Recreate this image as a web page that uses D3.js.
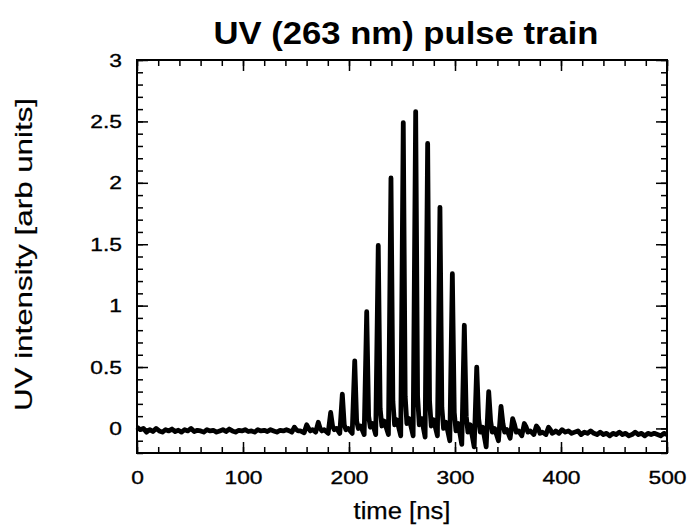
<!DOCTYPE html>
<html>
<head>
<meta charset="utf-8">
<script src="https://cdn.jsdelivr.net/npm/d3@7"></script>
<style>
  body { margin: 0; background: #fff; }
  text { font-family: "Liberation Sans", Arial, Helvetica, sans-serif; fill: #000; }
</style>
</head>
<body>
<div id="chart"></div>
<script>
// pulse train (ns, arb units)
var pulseTime  = [148.5, 160.1, 171.0, 182.7, 193.7, 205.4, 216.7, 227.6, 239.6, 251.2, 262.9,
                  274.2, 285.8, 297.5, 308.8, 320.5, 331.8, 343.4, 354.4, 365.4, 376.8, 388.2];
var pulsePeak  = [0.01, 0.03, 0.05, 0.13, 0.28, 0.55, 0.95, 1.49, 2.04, 2.49, 2.58,
                  2.32, 1.80, 1.26, 0.84, 0.50, 0.30, 0.18, 0.08, 0.04, 0.02, 0.01];
// minimum just before each pulse
var dipBefore  = [-0.03, -0.035, -0.03, -0.04, -0.04, -0.04, -0.05, -0.05, -0.05, -0.06, -0.06,
                  -0.07, -0.06, -0.10, -0.13, -0.15, -0.15, -0.10, -0.08, -0.06, -0.05, -0.05];
// shoulder on the falling edge, small ring after it, level half way to next pulse
var shoulder   = [-0.01, 0.0, 0.0, 0.02, 0.03, 0.06, 0.10, 0.16, 0.22, 0.26, 0.26,
                  0.22, 0.17, 0.13, 0.10, 0.08, 0.06, 0.04, 0.03, 0.01, 0.0, -0.01];
var ringLevel  = [-0.02, -0.02, -0.02, -0.01, -0.01, 0.0, 0.01, 0.02, 0.03, 0.04, 0.03,
                  0.02, 0.0, -0.02, -0.03, -0.03, -0.03, -0.03, -0.03, -0.03, -0.04, -0.04];
var midLevel   = [-0.02, -0.01, -0.01, 0.0, 0.0, 0.02, 0.04, 0.06, 0.07, 0.08, 0.08,
                  0.07, 0.05, 0.04, 0.03, 0.01, 0.0, -0.01, -0.02, -0.02, -0.03, -0.03];
// noisy baseline before and after the train, sampled every 3 ns
var sampleStep = 3;
var leadStart = 0;
var leadLevel = [0.01, -0.01, 0.0, -0.03, -0.01, -0.025, 0.0, -0.02, -0.03, -0.01, -0.02, -0.005,
                 -0.025, -0.015, -0.03, -0.01, -0.02, 0.0, -0.025, -0.015, -0.02, -0.03, -0.01, -0.02,
                 -0.015, -0.03, -0.02, -0.01, -0.025, -0.005, -0.02, -0.03, -0.015, -0.02, -0.01, -0.025,
                 -0.02, -0.03, -0.01, -0.02, -0.015, -0.025, -0.01, -0.02, -0.03, -0.015, -0.02, -0.01, -0.02];
var tailStart = 395;
var tailLevel = [-0.02, -0.04, -0.01, -0.03, -0.02, -0.04, -0.03, -0.02, -0.05, -0.03, -0.04, -0.02,
                 -0.04, -0.05, -0.03, -0.05, -0.04, -0.06, -0.04, -0.05, -0.03, -0.05, -0.04, -0.06,
                 -0.05, -0.03, -0.05, -0.04, -0.06, -0.04, -0.05, -0.04, -0.05, -0.06, -0.04, -0.05];
var xTickLabels = [0, 100, 200, 300, 400, 500];
var yTickLabels = [0, 0.5, 1, 1.5, 2, 2.5, 3];

var W = 691, H = 529;
var margin = {top: 60, right: 24, bottom: 76, left: 137};
var width = W - margin.left - margin.right;   // 530
var height = H - margin.top - margin.bottom;  // 393
var stretch = 1.2; // lettering in the original is wider than Helvetica

var x = d3.scaleLinear().domain([0, 500]).range([0, width]);
var y = d3.scaleLinear().domain([-0.2, 3]).range([height, 0]);

// assemble trace: lead baseline, pulses, tail baseline
var trace = [];
leadLevel.forEach(function(v, i) {
  var t = leadStart + i * sampleStep;
  if (t < pulseTime[0] - 2.4) trace.push([t, v]);
});
pulseTime.forEach(function(t, i) {
  trace.push([t - 2.4, dipBefore[i]]);
  trace.push([t, pulsePeak[i]]);
  trace.push([t + 1.8, shoulder[i]]);
  trace.push([t + 3.4, ringLevel[i]]);
  trace.push([t + 5.6, midLevel[i]]);
});
tailLevel.forEach(function(v, i) {
  var t = tailStart + i * sampleStep;
  if (t <= 500) trace.push([t, v]);
});

var svg = d3.select('#chart').append('svg')
  .attr('width', W).attr('height', H);

var g = svg.append('g')
  .attr('transform', 'translate(' + margin.left + ',' + margin.top + ')');

var xMinor = d3.range(0, 501, 20);
var yMinor = d3.range(-0.2, 3.001, 0.1).map(function(d) { return +d.toFixed(1); });

function styleAxis(sel) {
  sel.select('.domain').remove();
  sel.selectAll('line').attr('stroke', '#000').attr('stroke-width', 1.5);
  sel.selectAll('text')
    .style('font-size', '19px')
    .attr('stroke', '#000').attr('stroke-width', 0.35)
    .attr('transform', 'scale(' + stretch + ',1)');
}

// bottom
g.append('g').attr('transform', 'translate(0,' + height + ')')
  .call(d3.axisBottom(x).tickValues(xMinor).tickSize(-6).tickFormat(''))
  .call(styleAxis);
g.append('g').attr('transform', 'translate(0,' + height + ')')
  .call(d3.axisBottom(x).tickValues(xTickLabels).tickSize(-11).tickPadding(18).tickFormat(d3.format('d')))
  .call(styleAxis);
// top
g.append('g')
  .call(d3.axisTop(x).tickValues(xMinor).tickSize(-6).tickFormat(''))
  .call(styleAxis);
g.append('g')
  .call(d3.axisTop(x).tickValues(xTickLabels).tickSize(-11).tickFormat(''))
  .call(styleAxis);
// left
g.append('g')
  .call(d3.axisLeft(y).tickValues(yMinor).tickSize(-6).tickFormat(''))
  .call(styleAxis);
g.append('g')
  .call(d3.axisLeft(y).tickValues(yTickLabels).tickSize(-11).tickPadding(12.5).tickFormat(function(d) { return d; }))
  .call(styleAxis);
// right
g.append('g').attr('transform', 'translate(' + width + ',0)')
  .call(d3.axisRight(y).tickValues(yMinor).tickSize(-6).tickFormat(''))
  .call(styleAxis);
g.append('g').attr('transform', 'translate(' + width + ',0)')
  .call(d3.axisRight(y).tickValues(yTickLabels).tickSize(-11).tickFormat(''))
  .call(styleAxis);

// frame
g.append('rect')
  .attr('width', width).attr('height', height)
  .attr('fill', 'none').attr('stroke', '#000').attr('stroke-width', 2);

// trace
var line = d3.line()
  .x(function(d) { return x(d[0]); })
  .y(function(d) { return y(d[1]); });

g.append('path')
  .datum(trace)
  .attr('d', line)
  .attr('fill', 'none')
  .attr('stroke', '#000')
  .attr('stroke-width', 4.8)
  .attr('stroke-linejoin', 'round');

// titles
svg.append('text')
  .attr('x', margin.left + width / 2 + 4).attr('y', 44)
  .attr('text-anchor', 'middle')
  .attr('textLength', 385).attr('lengthAdjust', 'spacingAndGlyphs')
  .style('font-size', '32px').style('font-weight', 'bold')
  .text('UV (263 nm) pulse train');

svg.append('text')
  .attr('x', margin.left + width / 2).attr('y', 519)
  .attr('text-anchor', 'middle')
  .attr('textLength', 97).attr('lengthAdjust', 'spacingAndGlyphs')
  .attr('stroke', '#000').attr('stroke-width', 0.25)
  .style('font-size', '23px')
  .text('time [ns]');

svg.append('text')
  .attr('transform', 'translate(32,' + (margin.top + height / 2 - 2) + ') rotate(-90)')
  .attr('text-anchor', 'middle')
  .attr('textLength', 313).attr('lengthAdjust', 'spacingAndGlyphs')
  .attr('stroke', '#000').attr('stroke-width', 0.2)
  .style('font-size', '24px')
  .text('UV intensity [arb units]');
</script>
</body>
</html>
